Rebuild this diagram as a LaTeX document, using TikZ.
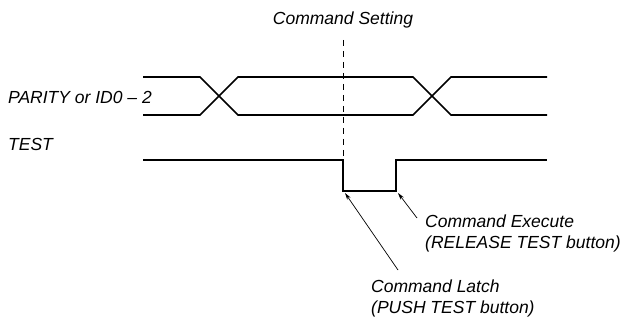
\documentclass[tikz,border=0pt]{standalone}
\usepackage{fontspec}
\setmainfont{Liberation Sans}
\usetikzlibrary{arrows.meta}
\begin{document}
\begin{tikzpicture}[x=1pt,y=-1pt,
  sig/.style={line width=1.6pt,line join=miter},
  lbl/.style={font=\fontsize{17.5}{21}\selectfont\itshape,inner sep=0pt,align=left},
  ptr/.style={line width=0.7pt,-{Stealth[length=7pt,width=4pt]}},
  guide/.style={line width=0.8pt,dash pattern=on 6pt off 5pt}]
\useasboundingbox (0,0) rectangle (632,320);
% bus
\draw[sig] (143,77) -- (200,77) -- (238,115) -- (413,115) -- (451,77) -- (547,77);
\draw[sig] (143,115) -- (200,115) -- (238,77) -- (413,77) -- (451,115) -- (547,115);
% test signal
\coordinate (fall) at (343,191);
\coordinate (rise) at (396,191);
\coordinate (fallend) at (345,193);
\coordinate (riseend) at (398,193);
\draw[sig] (143,160) -- (343,160) -- (fall) -- (rise) -- (396,160) -- (547,160);
% dashed guide
\coordinate (gtop) at (343,40);
\coordinate (gbot) at (343,160);
\draw[guide] (gtop) -- (gbot);
% labels
\node[lbl,anchor=center] (cs) at (343,20) {Command Setting};
\node[lbl,anchor=west] (par) at (8,97) {PARITY or ID0 – 2};
\node[lbl,anchor=west] (test) at (8,144) {TEST};
\node[lbl,anchor=west] (exe) at (425,233) {Command Execute\\(RELEASE TEST button)};
\node[lbl,anchor=west] (lat) at (371,298) {Command Latch\\(PUSH TEST button)};
% pointers
\coordinate (exs) at (417,218);
\coordinate (lts) at (398,270);
\draw[ptr] (exs) -- (riseend);
\draw[ptr] (lts) -- (fallend);
\end{tikzpicture}
\end{document}
